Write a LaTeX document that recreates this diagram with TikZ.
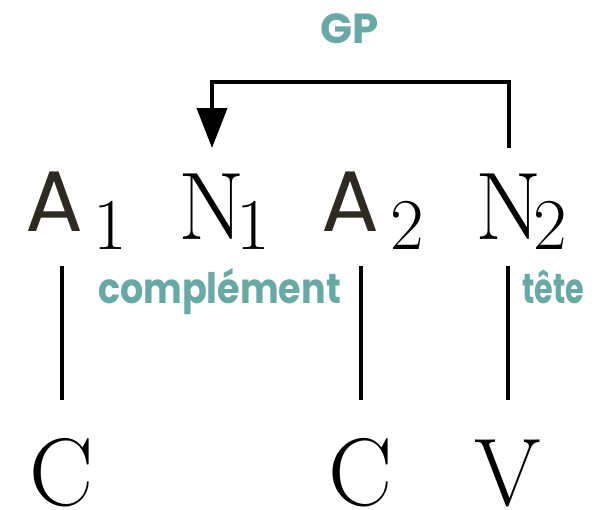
\documentclass[tikz,border=0pt]{standalone}
\usepackage{fontspec}
\usetikzlibrary{arrows.meta, positioning, calc}
\newfontfamily\geo{Poppins}
\definecolor{gpteal}{HTML}{68A8A5}
\definecolor{adark}{HTML}{2D2A21}
\newcommand{\sub}[1]{{\rmfamily\color{black}\fontsize{36.5}{40}\selectfont\raisebox{-5pt}{#1}}}
\newcommand{\stemD}[2]
{
	\draw[stem] (#2 |- #1.south) -- (#2.north)
}

\begin{document}
\begin{tikzpicture}[x=0.5pt, y=-0.5pt,
			cat/.style={inner sep=0, outer sep=0, anchor=base,
				text height=33pt, text depth=0.5pt,
				font=\fontsize{48}{52}\selectfont},
			acat/.append style={cat, font=\geo\fontsize{43}{46}\selectfont, text=adark},
			role/.style={inner sep=0, anchor=base, text=gpteal,
				font=\geo\bfseries\fontsize{21}{24}\selectfont},
			stem/.style={line width=1.8pt, shorten <=13pt, shorten >=19.5pt},
			gparrow/.style={line width=2pt, -{Triangle[length=20pt, width=15pt]}}]

			\useasboundingbox (0,0) rectangle (597,509);

			% top row
			\node[acat] at (54.5, 239) (a1){\raisebox{4pt}{A}\rlap{\hspace{5pt}\sub{1}}};
			\node[cat] at (212, 239) (n1){N\rlap{\hspace{-4.4pt}\sub{1}}};
			\node[acat] at (350.5, 239) (a2){\raisebox{4pt}{A}\rlap{\hspace{5.5pt}\sub{2}}};
			\node[cat] at (509, 239) (n2){N\rlap{\hspace{-4.4pt}\sub{2}}};

			% bottom row
			\node[cat] at (62, 505) (c1){C};
			\node[cat] at (361, 505) (c2){C};
			\node[cat] at (508, 505) (v){V};

			% labels
			\node[role] at (350, 43) (gp){GP};
			\node[role] at (219.5, 303) (compl){\scalebox{0.87}[1]{complément}};
			\node[role] at (553.5, 303) (tete){\scalebox{0.72}[1]{tête}};
			\coordinate (gpbar) at (360, 82);

			\draw[gparrow] ([yshift=12.5pt]n2.north) |- (gpbar) -| ([yshift=12.5pt]n1.north);

			\stemD{a1}{c1};
			\stemD{a2}{c2};
			\stemD{n2}{v};
		\end{tikzpicture}
\end{document}
